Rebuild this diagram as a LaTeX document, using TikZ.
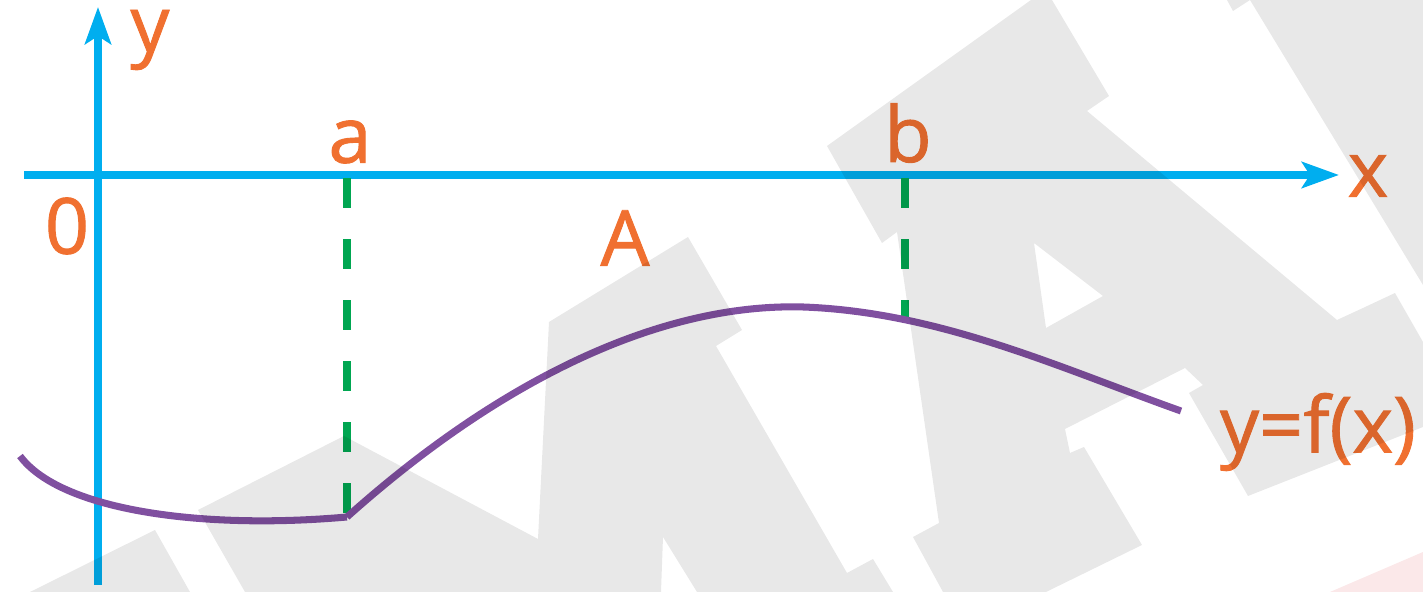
\documentclass[tikz,border=0pt]{standalone}
\usepackage{fontspec}
\setmainfont{Open Sans}
\newfontfamily\lblfont{Open Sans}[BoldFont={Open Sans}, BoldFeatures={FakeBold=1.2}]
\usetikzlibrary{arrows.meta}
\definecolor{axisblue}{HTML}{00AEEF}
\definecolor{labelorange}{HTML}{F07030}
\definecolor{curvepurple}{HTML}{8050A0}
\definecolor{boundgreen}{HTML}{00A651}
\definecolor{markpink}{HTML}{FBE8E9}
\tikzset{
	axis/.style={axisblue, line width=2pt, -{Stealth[length=3.7mm, width=2.6mm, inset=0.8mm]}},
	lbl/.style={labelorange, font=\lblfont\bfseries\fontsize{22}{26}\selectfont, inner sep=0pt},
	bound/.style={boundgreen, line width=2pt, dash pattern=on 0.3cm off 0.31cm},
	graph/.style={curvepurple, line width=2pt},
	watermark/.style={fill=black, fill opacity=0.09, even odd rule},
}
\begin{document}
\begin{tikzpicture}[x=0.01cm, y=-0.01cm]
	\useasboundingbox (0,0) rectangle (1423,592);
	\fill[markpink] (1330,592) -- (1423,552) -- (1423,592) -- cycle;
	\coordinate (xstart) at (24,175);
	\coordinate (xend) at (1339,175);
	\coordinate (ystart) at (98,585);
	\coordinate (yend) at (98,7);
	\draw[axis] (xstart) -- (xend);
	\draw[axis] (ystart) -- (yend);
	\coordinate (atop) at (347,178);
	\coordinate (afoot) at (347,517);
	\coordinate (btop) at (905,178);
	\coordinate (bfoot) at (905,320);
	\foreach \n in {a, b}
		\draw[bound] (\n top) -- (\n foot);
	\coordinate (left) at (20,456);
	\coordinate (peak) at (803,307);
	\coordinate (right) at (1181,411);
	\draw[graph] (left) .. controls (60,510) and (200,530) .. (afoot);
	\draw[graph] (afoot) .. controls (500,380) and (660,303) .. (peak) .. controls (940,312) and (1060,368) .. (right);
	\node[lbl] (ylabel) at (150,40) {y};
	\node[lbl] (xlabel) at (1368,176) {x};
	\node[lbl] (origin) at (67,226) {0};
	\node[lbl] (alabel) at (350,142) {a};
	\node[lbl] (blabel) at (908,133) {b};
	\node[lbl] (area) at (625,238) {A};
	\node[lbl] (func) at (1318,432) {y=f(x)};
	\fill[watermark] (30,592) -- (155,530) -- (190,592) -- cycle;
	\fill[watermark] (198,510) -- (344,436) -- (538,539) -- (549,322) -- (688,237) -- (742,330) -- (716,346) -- (847,573) -- (873,559) -- (893,592) -- (697,592) -- (663,537) -- (661,592) -- (245,592) -- cycle;
	\fill[watermark] (1031,0) -- (1052,0) -- (1109,96) -- (1087,111) -- (1337,320) -- (1363,308) -- (1395,293) -- (1423,342) -- (1423,427) -- (1248,496) -- (1189,393) -- (1203,385) -- (1185,368) -- (1065,429) -- (1070,453) -- (1084,447) -- (1142,545) -- (1046,592) -- (943,592) -- (913,537) -- (939,523) -- (897,232) -- (882,243) -- (827,146) -- cycle
		(1034,243) -- (1103,296) -- (1046,328) -- cycle;
	\fill[watermark] (1227,0) -- (1233,11) -- (1250,0) -- (1423,285) -- (1423,0) -- cycle;
\end{tikzpicture}
\end{document}
